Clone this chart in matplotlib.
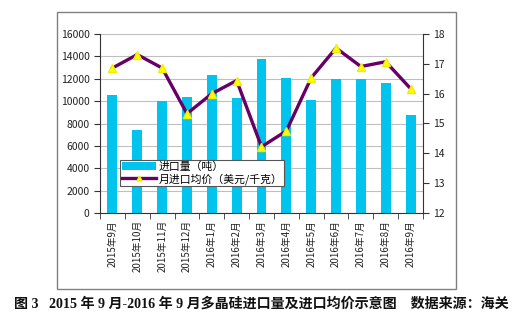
import matplotlib
matplotlib.use("Agg")
import matplotlib.pyplot as plt
from matplotlib.patches import Rectangle
import numpy as np

plt.rcParams['font.family'] = ['Noto Sans CJK SC', 'DejaVu Sans']

months = ["2015年9月", "2015年10月", "2015年11月", "2015年12月", "2016年1月",
          "2016年2月", "2016年3月", "2016年4月", "2016年5月", "2016年6月",
          "2016年7月", "2016年8月", "2016年9月"]
import_volume = [10550, 7400, 10000, 10350, 12350, 10300, 13800, 12100,
                 10100, 12000, 12000, 11600, 8800]
avg_price = [16.86, 17.31, 16.86, 15.33, 16.0, 16.44, 14.22, 14.75,
             16.53, 17.53, 16.91, 17.07, 16.17]

W, H = 523, 334
fig = plt.figure(figsize=(W / 100, H / 100), dpi=100)
fig.patch.set_facecolor("white")

# outer chart frame
fig.add_artist(Rectangle((57 / W, 1 - 289 / H), (456 - 57) / W, (289 - 12) / H,
                         transform=fig.transFigure, fill=False,
                         edgecolor="#808080", linewidth=1.0))

ax = fig.add_axes([100 / W, 1 - 213 / H, (423 - 100) / W, (213 - 34) / H])
x = np.arange(len(months))
ax.bar(x, import_volume, width=0.4, color="#00C4EE", zorder=2,
       label="进口量（吨）")
ax.set_ylim(0, 16000)
ax.set_yticks(np.arange(0, 16001, 2000))
ax.set_xlim(-0.5, len(months) - 0.5)
ax.set_xticks(x)
ax.set_xticklabels(months, rotation=90, fontsize=7, color="#222222")
ax.set_xticks(np.arange(-0.5, len(months), 1), minor=True)
ax.tick_params(axis="x", which="major", length=0, pad=5)
ax.tick_params(axis="x", which="minor", length=4, direction="out", color="#333333")
ax.tick_params(axis="y", labelsize=7.5, length=4, color="#333333", labelcolor="#222222")
ax.grid(axis="y", color="#BFBFBF", linewidth=0.8, zorder=0)
for s in ["top", "right"]:
    ax.spines[s].set_visible(False)
for s in ["left", "bottom"]:
    ax.spines[s].set_color("#333333")

ax2 = ax.twinx()
ax2.plot(x, avg_price, color="#660066", linewidth=2.4, marker="^",
         markersize=6, markerfacecolor="#FFFF00", markeredgecolor="#EEEE00",
         zorder=3, label="月进口均价（美元/千克）")
ax2.set_ylim(12, 18)
ax2.set_yticks(np.arange(12, 18.1, 1))
ax2.tick_params(axis="y", labelsize=7.5, length=4, color="#333333", labelcolor="#222222")
for s in ["top", "left", "bottom"]:
    ax2.spines[s].set_visible(False)
ax2.spines["right"].set_color("#333333")

h1, l1 = ax.get_legend_handles_labels()
h2, l2 = ax2.get_legend_handles_labels()
leg = ax2.legend(h1 + h2, l1 + l2, loc="upper left",
                 bbox_to_anchor=((120 - 100) / (423 - 100), (213 - 160) / (213 - 34)),
                 fontsize=7.8, frameon=True, fancybox=False, borderpad=0.15,
                 labelspacing=0.1, handlelength=3.2, handletextpad=0.2,
                 borderaxespad=0, markerscale=0.6)
leg.get_frame().set_edgecolor("#555555")
leg.get_frame().set_linewidth(0.8)
leg.get_frame().set_facecolor("white")
leg.get_frame().set_alpha(1)

fig.text(14 / W, 1 - 304 / H,
         "图 3   2015 年 9 月-2016 年 9 月多晶硅进口量及进口均价示意图    数据来源：海关",
         family=["Liberation Serif", "Noto Sans CJK SC"], fontweight="bold",
         fontsize=10.1, va="center", ha="left", color="#111111")

fig.savefig("out.png", dpi=100)
